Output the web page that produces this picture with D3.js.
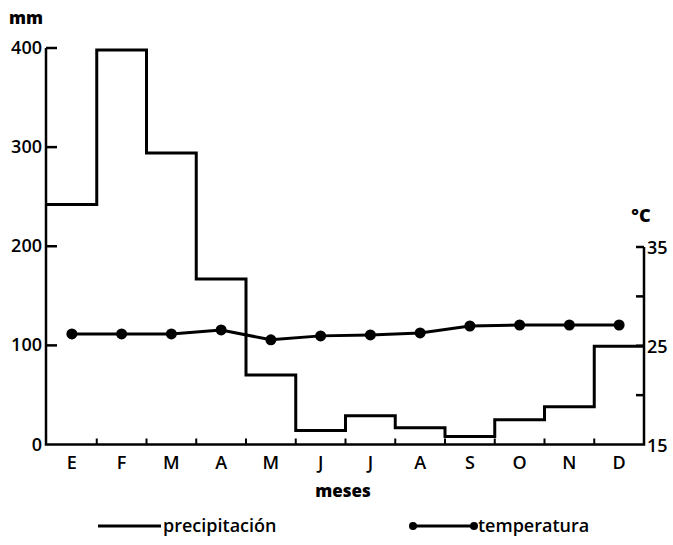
<!DOCTYPE html>
<html>
<head>
<meta charset="utf-8">
<script src="https://cdn.jsdelivr.net/npm/d3@7"></script>
<style>
  body { margin: 0; background: #fff; }
  svg { display: block; font-family: "Open Sans", sans-serif; }
  text { fill: #000; }
</style>
</head>
<body>
<svg width="673" height="545"></svg>
<script>
const MONTHS = ['E', 'F', 'M', 'A', 'M', 'J', 'J', 'A', 'S', 'O', 'N', 'D'];
const PRECIP = [242, 398, 294, 167, 70, 14, 29, 17, 8, 25, 38, 99];
const TEMP = [26.2, 26.2, 26.2, 26.6, 25.6, 26.0, 26.1, 26.3, 27.0, 27.1, 27.1, 27.1];
const MM_TICKS = [0, 100, 200, 300, 400];
const C_TICKS = [15, 25, 35];
const C_MINOR = [20, 30];

const svg = d3.select('svg');
const left = 46, right = 644, bottom = 444.5;

// month bands, index based because month letters repeat
const xScale = d3.scaleBand().domain(d3.range(12)).range([47, right]);
const yScale = d3.scaleLinear().domain([0, 400]).range([bottom, 48]);
const tScale = d3.scaleLinear().domain([15, 35]).range([bottom, 247]);

// precipitation step line
const stepPts = [];
PRECIP.forEach((v, i) => {
  stepPts.push([i === 0 ? left : xScale(i), yScale(v)]);
  stepPts.push([xScale(i) + xScale.bandwidth(), yScale(v)]);
});
svg.append('path')
  .attr('d', d3.line()(stepPts))
  .attr('fill', 'none')
  .attr('stroke', '#000')
  .attr('stroke-width', 3)
  .attr('stroke-linejoin', 'miter');

// axes lines
const axisG = svg.append('g').attr('stroke', '#000').attr('stroke-width', 2.5).attr('fill', 'none');
axisG.append('path').attr('d', `M${left},${yScale(400)}V${bottom}H${right}V${tScale(35)}`);

// left ticks (pointing in)
MM_TICKS.forEach(t => {
  if (t > 0) {
    axisG.append('line').attr('x1', left).attr('x2', left + 11)
      .attr('y1', yScale(t)).attr('y2', yScale(t));
  }
  svg.append('text').attr('x', left - 4).attr('y', yScale(t) + 6)
    .attr('text-anchor', 'end').attr('font-size', 18).attr('font-weight', 600).text(t);
});

// right ticks
C_TICKS.concat(C_MINOR).forEach(t => {
  if (t > 15) {
    axisG.append('line').attr('x1', right).attr('x2', right - 8)
      .attr('y1', tScale(t)).attr('y2', tScale(t));
  }
});
C_TICKS.forEach(t => {
  svg.append('text').attr('x', right + 3).attr('y', tScale(t) + 7)
    .attr('font-size', 18).attr('font-weight', 600).text(t);
});

// bottom ticks at month boundaries
d3.range(1, 12).forEach(i => {
  axisG.append('line').attr('x1', xScale(i)).attr('x2', xScale(i))
    .attr('y1', bottom).attr('y2', bottom - 6).attr('stroke-width', 2);
});
MONTHS.forEach((m, i) => {
  svg.append('text').attr('x', xScale(i) + xScale.bandwidth() / 2).attr('y', 469)
    .attr('text-anchor', 'middle').attr('font-size', 18).attr('font-weight', 600).text(m);
});

// temperature line with dots
const tLine = d3.line()
  .x((d, i) => xScale(i) + xScale.bandwidth() / 2)
  .y(d => tScale(d));
svg.append('path').attr('d', tLine(TEMP))
  .attr('fill', 'none').attr('stroke', '#000').attr('stroke-width', 3);
svg.selectAll('.dot').data(TEMP).enter().append('circle')
  .attr('class', 'dot')
  .attr('cx', (d, i) => xScale(i) + xScale.bandwidth() / 2)
  .attr('cy', d => tScale(d))
  .attr('r', 5.5);

// axis titles
svg.append('text').attr('x', 26).attr('y', 24).attr('text-anchor', 'middle')
  .attr('font-size', 17).attr('font-weight', 800).text('mm');
svg.append('text').attr('x', 641).attr('y', 222).attr('text-anchor', 'middle')
  .attr('font-size', 18).attr('font-weight', 800).text('°C');
svg.append('text').attr('x', 343).attr('y', 497).attr('text-anchor', 'middle')
  .attr('font-size', 17).attr('font-weight', 800).text('meses');

// legend
const leg = svg.append('g');
leg.append('line').attr('x1', 98).attr('x2', 161).attr('y1', 526).attr('y2', 526)
  .attr('stroke', '#000').attr('stroke-width', 3);
leg.append('text').attr('x', 163).attr('y', 532).attr('font-size', 18).attr('font-weight', 600).text('precipitación');
leg.append('line').attr('x1', 413).attr('x2', 474).attr('y1', 526).attr('y2', 526)
  .attr('stroke', '#000').attr('stroke-width', 3);
[413, 474].forEach(x => leg.append('circle').attr('cx', x).attr('cy', 526).attr('r', 4));
leg.append('text').attr('x', 478).attr('y', 532).attr('font-size', 18).attr('font-weight', 600).text('temperatura');
</script>
</body>
</html>
